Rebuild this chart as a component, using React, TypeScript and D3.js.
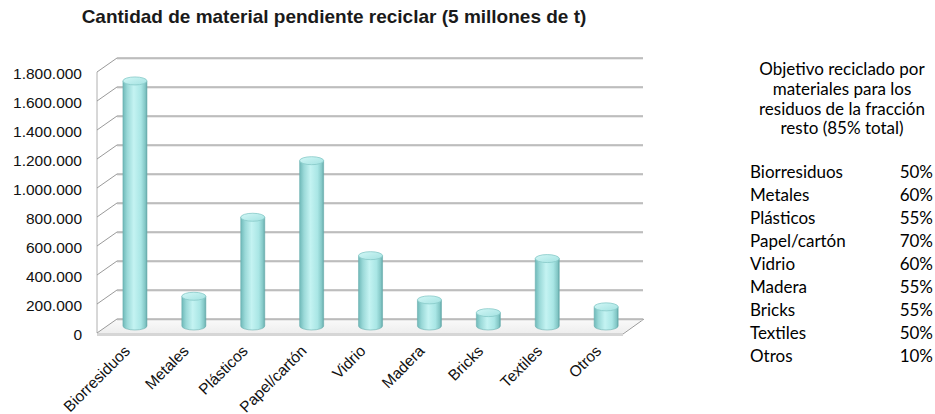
import React from "react";
import * as d3 from "d3";

const categories = ["Biorresiduos", "Metales", "Plásticos", "Papel/cartón", "Vidrio", "Madera", "Bricks", "Textiles", "Otros"];
const values = [1690000, 205000, 750000, 1140000, 485000, 180000, 92000, 465000, 132000];
const yTicks = [0, 200000, 400000, 600000, 800000, 1000000, 1200000, 1400000, 1600000, 1800000];
const chartTitle = "Cantidad de material pendiente reciclar (5 millones de t)";
const tableTitle = ["Objetivo reciclado por", "materiales para los", "residuos de la fracción", "resto (85% total)"];
const tableNames = ["Biorresiduos", "Metales", "Plásticos", "Papel/cartón", "Vidrio", "Madera", "Bricks", "Textiles", "Otros"];
const tablePct = ["50%", "60%", "55%", "70%", "60%", "55%", "55%", "50%", "10%"];

const fmt = (v: number) => d3.format(",")(v).replace(/,/g, ".");

export default function App() {
  const W = 935, H = 414;
  // mid-depth plane
  const y = d3.scaleLinear().domain([0, 1800000]).range([326, 65]);
  const x = d3.scaleBand().domain(categories).range([105.5, 635.6]).padding(0);
  const dx = 10, dy = -7; // mid -> back offset
  const backL = 117, backR = 643;
  const frontL = backL - 2 * dx, frontR = backR - 2 * dx;
  const bw = 24, ry = 4;
  const arial = "'Liberation Sans', Arial, sans-serif";
  const lato = "Lato, 'Open Sans', sans-serif";

  return (
    <svg width={W} height={H} style={{ position: "absolute", left: 0, top: 0, background: "#fff" }}>
      <defs>
        <linearGradient id="cyl" x1="0" x2="1" y1="0" y2="0">
          <stop offset="0" stopColor="#6fb9b9" />
          <stop offset="0.18" stopColor="#9ad9d8" />
          <stop offset="0.45" stopColor="#c4f3f2" />
          <stop offset="0.75" stopColor="#a9e6e5" />
          <stop offset="0.93" stopColor="#82c6c5" />
          <stop offset="1" stopColor="#5fa5a5" />
        </linearGradient>
        <linearGradient id="cap" x1="0" x2="1" y1="0" y2="1">
          <stop offset="0" stopColor="#d2f7f6" />
          <stop offset="1" stopColor="#a3e2e1" />
        </linearGradient>
        <linearGradient id="floor" x1="0" x2="0" y1="0" y2="1">
          <stop offset="0" stopColor="#fafafa" />
          <stop offset="1" stopColor="#eeeeee" />
        </linearGradient>
      </defs>

      <text x={334} y={23} textAnchor="middle" fontFamily={arial} fontWeight="bold" fontSize={19} fill="#1a1a1a">
        {chartTitle}
      </text>

      {/* floor */}
      <polygon
        points={`${frontL},${y(0) - dy} ${backL},${y(0) + dy} ${backR},${y(0) + dy} ${frontR},${y(0) - dy}`}
        fill="url(#floor)"
      />
      <line x1={frontL} x2={frontR} y1={y(0) - dy + 1.5} y2={y(0) - dy + 1.5} stroke="#d6d6d6" strokeWidth={3} />
      <line x1={frontR} y1={y(0) - dy + 1} x2={backR + 1} y2={y(0) + dy} stroke="#9a9a9a" strokeWidth={1} />

      {/* left wall front edge */}
      <line x1={frontL} x2={frontL} y1={y(0) - dy} y2={y(1800000) - dy} stroke="#b0b0b0" strokeWidth={1} />

      {/* gridlines on back wall + side wall */}
      {yTicks.map((t) => (
        <g key={t}>
          <line x1={backL} x2={backR} y1={y(t) + dy + 1} y2={y(t) + dy + 1} stroke="#d8d8d8" strokeWidth={1} />
          <line x1={backL} x2={backR} y1={y(t) + dy} y2={y(t) + dy} stroke="#8e8e8e" strokeWidth={1.1} />
          <line x1={frontL} x2={backL} y1={y(t) - dy} y2={y(t) + dy} stroke="#9a9a9a" strokeWidth={1} />
        </g>
      ))}

      {/* y labels */}
      {yTicks.map((t) => (
        <text key={t} x={82} y={y(t) - dy + 2} dy="0.35em" textAnchor="end" fontFamily={arial} fontSize={15.5} fill="#111">
          {fmt(t)}
        </text>
      ))}

      {/* cylinders */}
      {categories.map((c, i) => {
        const cx = (x(c) as number) + x.bandwidth() / 2;
        const l = cx - bw / 2, r = cx + bw / 2;
        const yt = y(values[i]);
        const yb = y(0);
        const body = `M${l},${yt} L${l},${yb} A${bw / 2},${ry} 0 0 0 ${r},${yb} L${r},${yt} Z`;
        return (
          <g key={c}>
            <path d={body} fill="url(#cyl)" stroke="#6aaeae" strokeWidth={0.6} />
            <ellipse cx={cx} cy={yt} rx={bw / 2} ry={ry} fill="url(#cap)" stroke="#86c9c8" strokeWidth={0.8} />
          </g>
        );
      })}

      {/* x labels */}
      {categories.map((c) => {
        const cx = (x(c) as number) + x.bandwidth() / 2;
        const ax = cx - 4, ay = 352;
        return (
          <text key={c} x={ax} y={ay} textAnchor="end" transform={`rotate(-45 ${ax} ${ay})`} fontFamily={arial} fontSize={15.5} fill="#111">
            {c}
          </text>
        );
      })}

      {/* table */}
      {tableTitle.map((s, i) => (
        <text key={s} x={842} y={75 + i * 19.8} textAnchor="middle" fontFamily={lato} fontSize={17} fill="#000">
          {s}
        </text>
      ))}
      {tableNames.map((s, i) => (
        <g key={s}>
          <text x={750} y={178 + i * 23} fontFamily={lato} fontSize={17} fill="#000">{s}</text>
          <text x={933} y={178 + i * 23} textAnchor="end" fontFamily={lato} fontSize={17} fill="#000">{tablePct[i]}</text>
        </g>
      ))}
    </svg>
  );
}
